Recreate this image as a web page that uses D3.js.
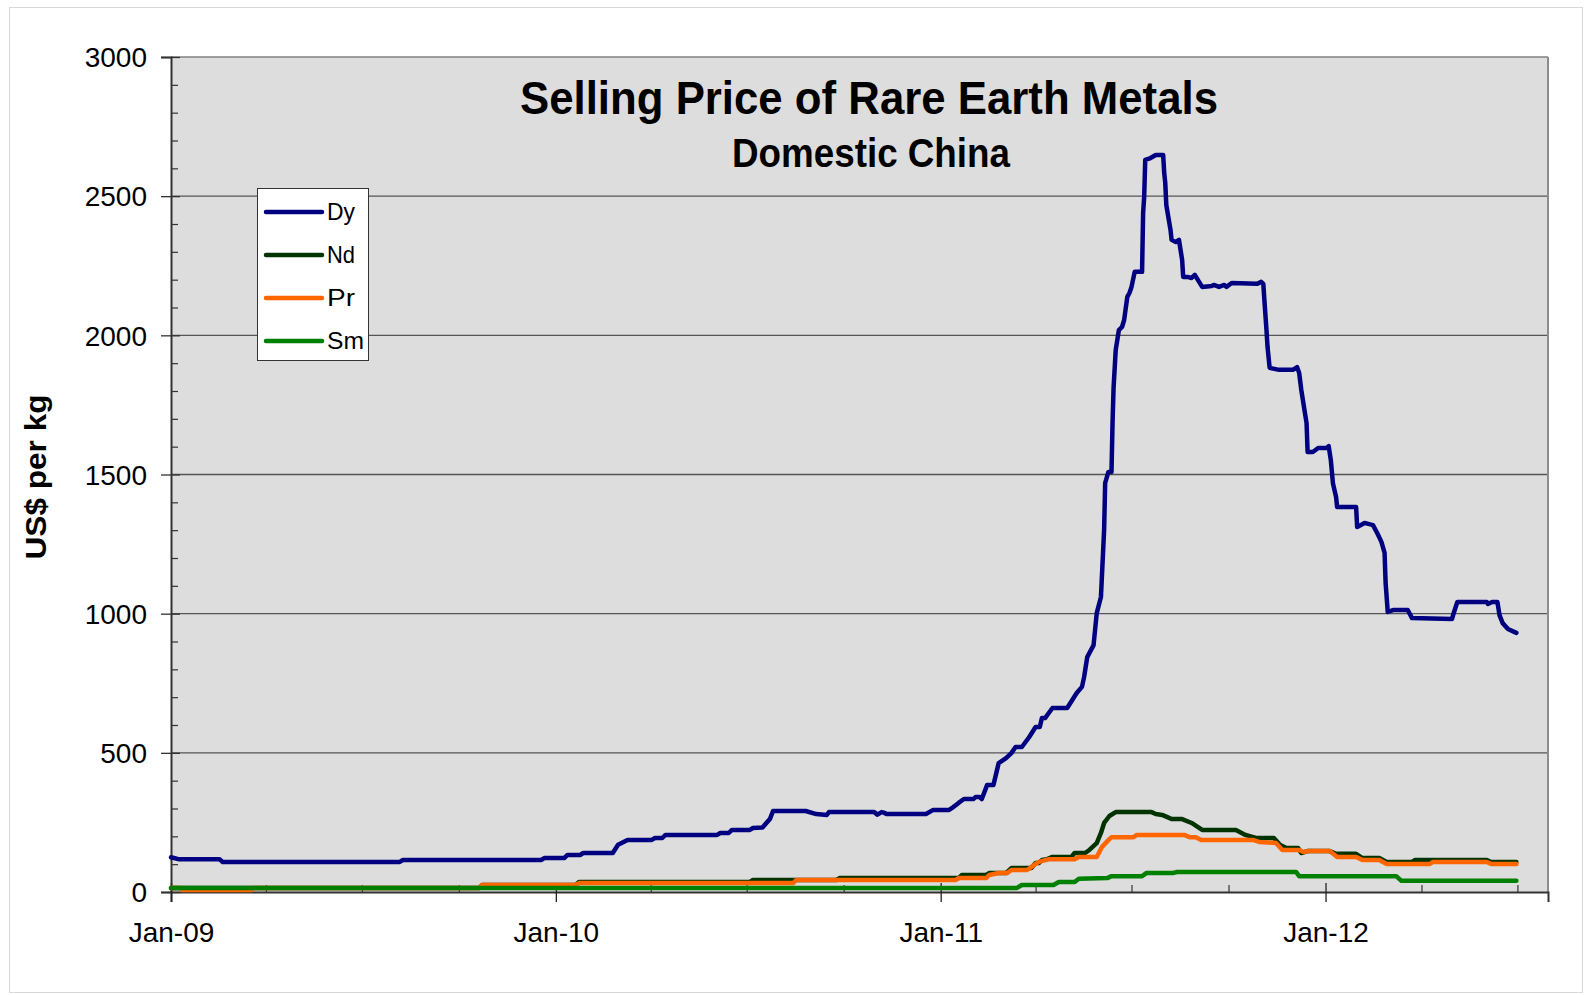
<!DOCTYPE html>
<html>
<head>
<meta charset="utf-8">
<script src="https://cdn.jsdelivr.net/npm/d3@7/dist/d3.min.js"></script>
<style>
  html, body { margin: 0; padding: 0; background: #ffffff; }
  svg { display: block; font-family: "Liberation Sans", Arial, sans-serif; }
</style>
</head>
<body>
<svg id="chart" width="1585" height="995"></svg>
<script>
// Selling price of rare earth metals, domestic China, US$ per kg
const seriesNames = ["Dy", "Nd", "Pr", "Sm"];
const seriesColors = ["#000080", "#003300", "#FF6600", "#008000"];

const dy = [
  ["2009-01-01",125],["2009-01-08",118],["2009-02-16",118],["2009-02-19",108],["2009-08-06",108],
  ["2009-08-09",115],["2009-12-18",115],["2009-12-21",122],["2010-01-09",122],["2010-01-12",133],
  ["2010-01-24",133],["2010-01-27",140],["2010-02-24",140],["2010-03-01",170],["2010-03-10",187],
  ["2010-04-02",187],["2010-04-05",194],["2010-04-12",194],["2010-04-15",205],["2010-06-03",205],
  ["2010-06-06",212],["2010-06-14",212],["2010-06-17",223],["2010-07-04",223],["2010-07-07",230],
  ["2010-07-16",232],["2010-07-23",262],["2010-07-26",291],["2010-08-26",291],["2010-09-05",280],
  ["2010-09-15",277],["2010-09-17",287],["2010-10-30",287],["2010-11-02",278],["2010-11-06",287],
  ["2010-11-08",285],["2010-11-11",280],["2010-12-18",280],["2010-12-25",295],["2011-01-09",295],
  ["2011-01-13",305],["2011-01-18",320],["2011-01-23",334],["2011-02-01",334],["2011-02-03",341],
  ["2011-02-07",341],["2011-02-09",334],["2011-02-14",384],["2011-02-20",384],["2011-02-25",463],
  ["2011-03-04",481],["2011-03-09",499],["2011-03-13",521],["2011-03-19",521],["2011-03-26",557],
  ["2011-04-01",593],["2011-04-05",593],["2011-04-07",625],["2011-04-10",625],["2011-04-17",661],
  ["2011-05-01",661],["2011-05-10",715],["2011-05-15",737],["2011-05-17",772],["2011-05-20",844],
  ["2011-05-26",887],["2011-05-29",1002],["2011-06-02",1060],["2011-06-05",1301],["2011-06-06",1469],
  ["2011-06-09",1509],["2011-06-12",1509],["2011-06-13",1685],["2011-06-14",1814],["2011-06-16",1947],
  ["2011-06-19",2019],["2011-06-22",2030],["2011-06-24",2055],["2011-06-27",2138],["2011-06-29",2152],
  ["2011-07-01",2174],["2011-07-04",2228],["2011-07-11",2228],["2011-07-12",2440],["2011-07-13",2497],
  ["2011-07-14",2630],["2011-07-19",2637],["2011-07-24",2648],["2011-07-31",2648],["2011-08-01",2583],
  ["2011-08-02",2547],["2011-08-03",2468],["2011-08-07",2378],["2011-08-08",2343],["2011-08-12",2335],
  ["2011-08-15",2343],["2011-08-18",2271],["2011-08-19",2210],["2011-08-23",2210],["2011-08-27",2206],
  ["2011-08-30",2217],["2011-09-06",2174],["2011-09-15",2177],["2011-09-17",2181],["2011-09-22",2174],
  ["2011-09-27",2181],["2011-09-29",2174],["2011-10-04",2188],["2011-10-28",2185],["2011-11-01",2192],
  ["2011-11-03",2185],["2011-11-04",2127],["2011-11-06",2019],["2011-11-07",1958],["2011-11-09",1883],
  ["2011-11-18",1876],["2011-12-01",1876],["2011-12-05",1886],["2011-12-07",1865],["2011-12-09",1804],
  ["2011-12-12",1732],["2011-12-14",1685],["2011-12-15",1581],["2011-12-20",1581],["2011-12-25",1595],
  ["2012-01-02",1595],["2012-01-04",1602],["2012-01-05",1577],["2012-01-06",1552],["2012-01-08",1469],
  ["2012-01-11",1419],["2012-01-12",1383],["2012-01-30",1383],["2012-01-31",1311],["2012-02-07",1326],
  ["2012-02-15",1318],["2012-02-19",1290],["2012-02-23",1258],["2012-02-26",1218],["2012-02-27",1110],
  ["2012-02-29",1006],["2012-03-05",1013],["2012-03-19",1013],["2012-03-23",984],["2012-04-30",981],
  ["2012-05-01",995],["2012-05-05",1042],["2012-06-02",1042],["2012-06-03",1035],["2012-06-07",1042],
  ["2012-06-12",1042],["2012-06-14",995],["2012-06-17",966],["2012-06-22",945],["2012-06-30",931]
];

const nd = [
  ["2009-01-01",14],["2009-10-20",14],["2009-10-23",25],["2010-01-20",25],["2010-01-23",36],
  ["2010-07-04",36],["2010-07-07",43],["2010-09-24",43],["2010-09-27",50],["2011-01-18",50],
  ["2011-01-21",61],["2011-02-13",61],["2011-02-16",68],["2011-03-04",68],["2011-03-09",86],
  ["2011-03-28",86],["2011-04-01",104],["2011-04-04",104],["2011-04-07",115],["2011-04-12",118],
  ["2011-04-17",126],["2011-05-05",126],["2011-05-08",140],["2011-05-18",140],["2011-05-22",151],
  ["2011-05-29",176],["2011-06-02",212],["2011-06-05",248],["2011-06-10",273],["2011-06-16",287],
  ["2011-07-20",287],["2011-07-24",280],["2011-07-30",277],["2011-08-04",269],["2011-08-08",262],
  ["2011-08-18",262],["2011-08-27",248],["2011-09-06",223],["2011-10-08",223],["2011-10-17",205],
  ["2011-10-27",194],["2011-11-13",194],["2011-11-19",169],["2011-11-25",158],["2011-12-06",158],
  ["2011-12-09",140],["2011-12-15",147],["2012-01-05",147],["2012-01-11",137],["2012-01-30",137],
  ["2012-02-05",122],["2012-02-21",122],["2012-02-28",108],["2012-03-23",108],["2012-03-26",115],
  ["2012-06-02",115],["2012-06-06",108],["2012-06-30",108]
];

const pr = [
  ["2009-01-01",14],["2009-01-10",14],["2009-01-12",7],["2009-03-18",7],["2009-03-20",14],
  ["2009-10-20",14],["2009-10-23",25],["2010-01-20",25],["2010-01-23",32],["2010-08-14",32],
  ["2010-08-17",43],["2011-01-15",43],["2011-01-18",50],["2011-02-13",50],["2011-02-16",61],
  ["2011-02-25",68],["2011-03-05",68],["2011-03-09",79],["2011-03-24",79],["2011-03-28",90],
  ["2011-04-04",108],["2011-04-14",118],["2011-05-08",118],["2011-05-12",126],["2011-05-29",126],
  ["2011-06-03",162],["2011-06-10",190],["2011-06-12",197],["2011-07-03",197],["2011-07-06",205],
  ["2011-08-20",205],["2011-08-25",197],["2011-08-31",197],["2011-09-05",187],["2011-10-24",187],
  ["2011-10-30",180],["2011-11-15",176],["2011-11-21",151],["2011-12-07",151],["2011-12-11",144],
  ["2011-12-16",147],["2012-01-05",147],["2012-01-12",126],["2012-01-30",126],["2012-02-05",115],
  ["2012-02-21",115],["2012-02-28",101],["2012-04-09",101],["2012-04-12",108],["2012-06-02",108],
  ["2012-06-06",101],["2012-06-30",101]
];

const sm = [
  ["2009-01-01",14],["2011-03-14",14],["2011-03-19",25],["2011-04-18",25],["2011-04-23",36],
  ["2011-05-08",36],["2011-05-12",48],["2011-06-08",50],["2011-06-12",57],["2011-07-11",57],
  ["2011-07-15",68],["2011-08-09",68],["2011-08-13",72],["2011-12-04",72],["2011-12-07",57],
  ["2012-03-08",57],["2012-03-13",40],["2012-06-30",40]
];

const yTickValues = [0, 500, 1000, 1500, 2000, 2500, 3000];
const xDomainLabels = ["2009-01-01", "2012-07-30"];
const titleText = "Selling Price of Rare Earth Metals";
const subtitleText = "Domestic China";
const yAxisTitle = "US$ per kg";

const parse = d3.utcParse("%Y-%m-%d");
const series = [dy, nd, pr, sm].map((arr, i) => ({
  name: seriesNames[i],
  color: seriesColors[i],
  values: arr.map(([d, v]) => ({ date: parse(d), value: v }))
}));

const svg = d3.select("#chart");
const W = 1585, H = 995;
const plot = { left: 171, top: 57, right: 1548, bottom: 892 };

// chart frame
svg.append("rect").attr("x", 0).attr("y", 0).attr("width", W).attr("height", H).attr("fill", "#ffffff");
svg.append("rect").attr("x", 9.5).attr("y", 7.5).attr("width", 1573).attr("height", 985)
  .attr("fill", "none").attr("stroke", "#d8d8d8").attr("stroke-width", 1);

const x = d3.scaleUtc().domain(xDomainLabels.map(parse)).range([plot.left, plot.right]);
const y = d3.scaleLinear().domain([0, 3000]).range([plot.bottom, plot.top]);

// plot area
svg.append("rect")
  .attr("x", plot.left).attr("y", plot.top)
  .attr("width", plot.right - plot.left).attr("height", plot.bottom - plot.top)
  .attr("fill", "#dddddd");

// horizontal gridlines
svg.append("g").selectAll("line")
  .data(yTickValues.filter(v => v > 0))
  .join("line")
  .attr("x1", plot.left).attr("x2", plot.right)
  .attr("y1", d => y(d)).attr("y2", d => y(d))
  .attr("stroke", d => d === 3000 ? "#808080" : "#555555")
  .attr("stroke-width", 1.3);

// right border
svg.append("line")
  .attr("x1", plot.right).attr("x2", plot.right)
  .attr("y1", plot.top).attr("y2", plot.bottom)
  .attr("stroke", "#8c8c8c").attr("stroke-width", 2);

// minor y ticks (every 100), pointing into the plot
const yMinor = d3.range(0, 3001, 100).filter(v => v % 500 !== 0);
svg.append("g")
  .attr("transform", `translate(${plot.left},0)`)
  .call(d3.axisRight(y).tickValues(yMinor).tickSize(7).tickFormat(""))
  .call(g => g.select(".domain").remove())
  .call(g => g.selectAll(".tick line").attr("stroke", "#333").attr("stroke-width", 1.2));

// major y axis
svg.append("g")
  .attr("transform", `translate(${plot.left},0)`)
  .call(d3.axisLeft(y).tickValues(yTickValues).tickSize(10).tickPadding(14).tickFormat(d3.format("d")))
  .call(g => g.select(".domain").attr("stroke", "#333").attr("stroke-width", 2))
  .call(g => g.selectAll(".tick line").attr("x1", 9).attr("x2", -10).attr("stroke", "#333").attr("stroke-width", 1.3))
  .call(g => g.selectAll(".tick text")
    .attr("font-family", "'Liberation Sans', Arial, sans-serif")
    .attr("font-size", 28).attr("fill", "#000").attr("dy", "0.35em"));

// minor x ticks (quarters), pointing up
const quarterTicks = d3.utcMonth.every(3).range(x.domain()[0], x.domain()[1]).filter(d => d.getUTCMonth() !== 0);
svg.append("g")
  .attr("transform", `translate(0,${plot.bottom})`)
  .call(d3.axisTop(x).tickValues(quarterTicks).tickSize(7).tickFormat(""))
  .call(g => g.select(".domain").remove())
  .call(g => g.selectAll(".tick line").attr("stroke", "#333").attr("stroke-width", 1.2));

// major x axis (years)
const yearTicks = d3.utcYear.range(x.domain()[0], x.domain()[1]);
svg.append("g")
  .attr("transform", `translate(0,${plot.bottom})`)
  .call(d3.axisBottom(x).tickValues(yearTicks).tickSize(10).tickFormat(d3.utcFormat("%b-%y")))
  .call(g => g.select(".domain").attr("stroke", "#333").attr("stroke-width", 2))
  .call(g => g.selectAll(".tick line").attr("y1", -9).attr("y2", 10).attr("stroke", "#222").attr("stroke-width", 1.3))
  .call(g => g.selectAll(".tick text")
    .attr("font-family", "'Liberation Sans', Arial, sans-serif")
    .attr("font-size", 28).attr("fill", "#000").attr("y", 50).attr("dy", 0));

// series lines
const line = d3.line().x(d => x(d.date)).y(d => y(d.value));
svg.append("g").selectAll("path")
  .data(series)
  .join("path")
  .attr("d", d => line(d.values))
  .attr("fill", "none")
  .attr("stroke", d => d.color)
  .attr("stroke-width", 4.5)
  .attr("stroke-linejoin", "round")
  .attr("stroke-linecap", "round");

// titles
svg.append("text")
  .attr("x", 869).attr("y", 114)
  .attr("text-anchor", "middle")
  .attr("font-size", 47).attr("font-weight", "bold")
  .attr("textLength", 698).attr("lengthAdjust", "spacingAndGlyphs")
  .text(titleText);
svg.append("text")
  .attr("x", 871).attr("y", 167)
  .attr("text-anchor", "middle")
  .attr("font-size", 40).attr("font-weight", "bold")
  .attr("textLength", 278).attr("lengthAdjust", "spacingAndGlyphs")
  .text(subtitleText);

// y axis title
svg.append("text")
  .attr("transform", "translate(46,477) rotate(-90)")
  .attr("text-anchor", "middle")
  .attr("font-size", 29).attr("font-weight", "bold")
  .attr("textLength", 165).attr("lengthAdjust", "spacingAndGlyphs")
  .text(yAxisTitle);

// legend
const legend = svg.append("g");
legend.append("rect")
  .attr("x", 257.5).attr("y", 188.5).attr("width", 111).attr("height", 172)
  .attr("fill", "#ffffff").attr("stroke", "#333").attr("stroke-width", 1);
const items = legend.selectAll("g.item")
  .data(series)
  .join("g")
  .attr("class", "item")
  .attr("transform", (d, i) => `translate(0,${212 + i * 43})`);
items.append("line")
  .attr("x1", 266).attr("x2", 322).attr("y1", 0).attr("y2", 0)
  .attr("stroke", d => d.color).attr("stroke-width", 4.5).attr("stroke-linecap", "round");
items.append("text")
  .attr("x", 327).attr("y", 8)
  .attr("font-size", 24)
  .attr("textLength", d => d.name === "Sm" ? 37 : 28).attr("lengthAdjust", "spacingAndGlyphs")
  .text(d => d.name);
</script>
</body>
</html>
